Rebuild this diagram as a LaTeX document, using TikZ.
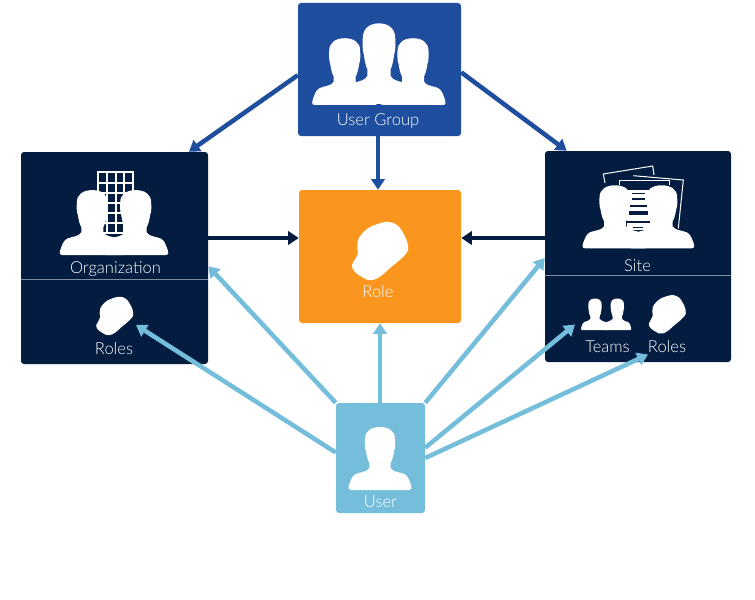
\documentclass[tikz,border=0pt]{standalone}
\usepackage{fontspec}
\setmainfont{Lato}[UprightFont=* Light]
\usetikzlibrary{arrows.meta}
\definecolor{kug}{HTML}{1F4E9E}
\definecolor{knavy}{HTML}{031C40}
\definecolor{korange}{HTML}{FA951E}
\definecolor{ksky}{HTML}{74BEDC}
\definecolor{kdiv}{HTML}{7F8DA3}
\tikzset{
boxnode/.style n args={3}{fill=#1,rounded corners=2.25pt,inner sep=0pt,minimum width=#2*0.75pt,minimum height=#3*0.75pt},
lbl/.style={text=white,inner sep=0pt,font=\fontsize{12.4}{14}\selectfont},
linkline/.style={line width=3.4pt,-{Triangle[length=8pt,width=10pt]}},
person/.pic={\fill[white](-30,0)..controls(-33,0)and(-33,-3)..(-32,-5)..controls(-30,-10)and(-29,-14)..(-25,-16)..controls(-20,-18)and(-13,-18)..(-11,-22)--(-11,-27)..controls(-13,-30)and(-14,-36)..(-14.5,-39)..controls(-16,-42)and(-15.5,-48)..(-15.5,-51)..controls(-15.5,-59)and(-9,-63)..(0,-63)..controls(9,-63)and(15.5,-59)..(15.5,-51)..controls(15.5,-48)and(16,-42)..(14.5,-39)..controls(14,-36)and(13,-30)..(11,-27)--(11,-22)..controls(13,-18)and(20,-18)..(25,-16)..controls(29,-14)and(30,-10)..(32,-5)..controls(33,-3)and(33,0)..(30,0)--cycle;},
hardhat/.pic={\fill[white](5,-28)..controls(11,-29)and(17,-26)..(20,-22)..controls(24,-16)and(29,-8)..(28,0)..controls(27,5)and(16,13)..(10,18)..controls(5,23)and(-2,29)..(-7,30)..controls(-12,31)and(-15,29)..(-18,27)..controls(-22,25)and(-29,20)..(-28,15)..controls(-27,11)and(-23,8)..(-22,3)..controls(-23,-2)and(-23,-6)..(-22,-10)..controls(-20,-15)and(-15,-20)..(-10,-23)..controls(-6,-25)and(0,-27)..(5,-28)--cycle;}
}
\begin{document}
\begin{tikzpicture}[x=0.75pt,y=-0.75pt]
\useasboundingbox(0,0)rectangle(755,599);
% boxes
\node[boxnode={kug}{163}{133}](usergroup)at(379.5,69.5){};
\node[boxnode={knavy}{187}{212}](orgbox)at(114.5,258){};
\node[boxnode={knavy}{186}{211}](sitebox)at(638,256.5){};
\node[boxnode={korange}{162}{133}](rolebox)at(380,256.5){};
\node[boxnode={ksky}{89}{110}](userbox)at(380.5,458){};
\coordinate(orgdiv)at(0,279.5);
\coordinate(sitediv)at(0,275);
\draw[kdiv,line width=0.75pt](orgbox.west|-orgdiv)--(orgbox.east|-orgdiv);
\draw[kdiv,line width=0.75pt](sitebox.west|-sitediv)--(sitebox.east|-sitediv);
% user group
\pic[xscale=1.05,yscale=1.28]at(379,104){person};
\pic[yscale=1.06]at(344.7,105){person};
\pic[yscale=1.06]at(413,105){person};
% organization
\foreach \kx in {97.7,106.6,115.5,124.4,133.3}{\draw[white,line width=1.5pt](\kx,171)--(\kx,234);}
\foreach \ky in {172.3,183.3,193.3,203.3,213.3,223.3,233.3}{\draw[white,line width=1.5pt](97,\ky)--(134,\ky);}
\pic[yscale=1.03]at(92.3,255){person};
\pic[yscale=1.03]at(135.7,255){person};
\pic[xscale=0.66,yscale=0.66]at(114.7,315.3){hardhat};
% site
\draw[white,line width=0.75pt](605,183)--(603.3,174)--(652.7,166)--(654,175);
\draw[white,line width=0.75pt](633.3,175.7)--(683.3,180)--(678.3,228.3);
\draw[white,line width=0.75pt](619.3,185)--(619.3,180.7)--(669.3,180.7)--(669.3,185);
\pic[]at(615,248.3){person};
\pic[]at(661.7,248.3){person};
\fill[white](626.7,190)rectangle(651,230);
\foreach \ky/\kh/\kw in {192.5/1.7/6.7,198.2/1.7/6.7,204.7/2/8.3,211.3/4/9.5,220.7/2/12,227.2/1/5}{\fill[knavy](638.3-\kw,\ky)rectangle(638.3+\kw,\ky+\kh);}
\pic[xscale=0.43,yscale=0.5]at(595,330){person};
\pic[xscale=0.43,yscale=0.5]at(617.3,330){person};
\pic[xscale=0.66,yscale=0.66]at(667.3,313.7){hardhat};
% role and user
\pic[]at(380,250){hardhat};
\pic[xscale=0.97]at(380,490){person};
% labels
\foreach \kname/\kx/\ky/\klb in {lug/378/121/{User Group},lorg/115.5/269/Organization,lorgr/114/349/Roles,lsite/637.5/266/Site,lteams/607.5/347/Teams,lsiter/667/347/Roles,lrole/378/292/Role,luser/380.5/502/User}{\node[lbl](\kname)at(\kx,\ky){\klb};}
% free ends
\coordinate(orghat)at(136,325);
\coordinate(teamsicon)at(575,324.5);
\coordinate(sitehat)at(648,354.5);
\coordinate(navyrow)at(0,238);
\coordinate(ugcol)at(378,0);
% links
\foreach \ka/\kb in {usergroup.184.6/orgbox.55,usergroup.358/sitebox.124.7,usergroup.south-|ugcol/rolebox.north-|ugcol}{\draw[linkline,kug](\ka)--(\kb);}
\foreach \ka/\kb in {orgbox.east|-navyrow/rolebox.west|-navyrow,sitebox.west|-navyrow/rolebox.east|-navyrow}{\draw[linkline,knavy](\ka)--(\kb);}
\foreach \ka/\kb in {userbox.north-|rolebox.south/rolebox.south,userbox.north west/orgbox.355.6,userbox.173.6/orghat,userbox.north east/sitebox.181.5,userbox.13.9/teamsicon,userbox.east/sitehat}{\draw[linkline,ksky](\ka)--(\kb);}
\end{tikzpicture}
\end{document}
